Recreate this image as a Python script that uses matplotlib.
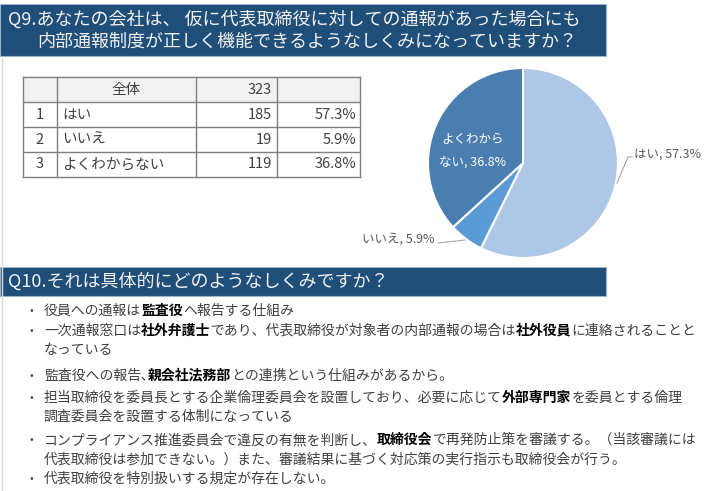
import matplotlib
matplotlib.use("Agg")
import matplotlib.pyplot as plt
from matplotlib.patches import Rectangle

plt.rcParams['font.family'] = ['Noto Sans CJK JP', 'DejaVu Sans']

# ---------------- data ----------------
q9_title = ["Q9.あなたの会社は、 仮に代表取締役に対しての通報があった場合にも",
            "内部通報制度が正しく機能できるようなしくみになっていますか？"]
q10_title = "Q10.それは具体的にどのようなしくみですか？"
total_label = "全体"
total_count = 323
row_numbers = [1, 2, 3]
categories = ["はい", "いいえ", "よくわからない"]
counts = [185, 19, 119]
percents = [57.3, 5.9, 36.8]
pie_colors = ["#AEC7E7", "#5B9BD5", "#4A7EB0"]

bullets = [
    [[("役員への通報は", False), ("監査役", True), ("へ報告する仕組み", False)]],
    [[("一次通報窓口は", False), ("社外弁護士", True), ("であり、代表取締役が対象者の内部通報の場合は", False),
      ("社外役員", True), ("に連絡されることと", False)],
     [("なっている", False)]],
    [[("監査役への報告､", False), ("親会社法務部", True), ("との連携という仕組みがあるから。", False)]],
    [[("担当取締役を委員長とする企業倫理委員会を設置しており、必要に応じて", False), ("外部専門家", True),
      ("を委員とする倫理", False)],
     [("調査委員会を設置する体制になっている", False)]],
    [[("コンプライアンス推進委員会で違反の有無を判断し、", False), ("取締役会", True),
      ("で再発防止策を審議する。（当該審議には", False)],
     [("代表取締役は参加できない。）また、審議結果に基づく対応策の実行指示も取締役会が行う。", False)]],
    [[("代表取締役を特別扱いする規定が存在しない。", False)]],
]

# ---------------- figure ----------------
W, H = 711, 491
fig = plt.figure(figsize=(W / 100, H / 100), dpi=100)

# Pie (drawn first, underneath the overlay axes)
cx, cy, r = 523, 163, 95
pax = fig.add_axes([(cx - r) / W, 1 - (cy + r) / H, 2 * r / W, 2 * r / H])
pax.pie(percents, colors=pie_colors, startangle=90, counterclock=False, radius=1,
        wedgeprops=dict(edgecolor='white', linewidth=1.5))
pax.set_xlim(-1, 1)
pax.set_ylim(-1, 1)
pax.set_aspect('auto')
pax.axis('off')

ax = fig.add_axes([0, 0, 1, 1])
ax.set_xlim(0, W)
ax.set_ylim(H, 0)
ax.axis('off')
ax.patch.set_alpha(0)
ax.set_zorder(5)

BANNER = "#1F4E79"
TXT = "#404040"

# left border line
ax.plot([2, 2], [58, H], color="#D9D9D9", lw=1)

# Q9 banner
ax.add_patch(Rectangle((0, 4), 606, 52, facecolor=BANNER, edgecolor="#9DB3CC", lw=0.8))
ax.text(8, 20, q9_title[0], fontsize=13, color="#F2F2F2", va='center', ha='left')
ax.text(37, 42, q9_title[1], fontsize=13, color="#F2F2F2", va='center', ha='left')

# Table
col_x = [23, 57, 196, 277, 360]
row_y = [77, 102, 127, 152, 177]
ax.add_patch(Rectangle((col_x[0], row_y[0]), col_x[-1] - col_x[0], row_y[1] - row_y[0],
                       facecolor="#F2F2F2", edgecolor='none'))
for y in row_y:
    ax.plot([col_x[0], col_x[-1]], [y, y], color="#7F7F7F", lw=1)
for x in col_x:
    ax.plot([x, x], [row_y[0], row_y[-1]], color="#7F7F7F", lw=1)
fs_t = 10.5
ym = (row_y[0] + row_y[1]) / 2
ax.text((col_x[1] + col_x[2]) / 2, ym, total_label, fontsize=fs_t, color=TXT, ha='center', va='center')
ax.text(col_x[3] - 5, ym, f"{total_count}", fontsize=fs_t, color=TXT, ha='right', va='center')
for i, (n, c, v, p) in enumerate(zip(row_numbers, categories, counts, percents)):
    ym = (row_y[i + 1] + row_y[i + 2]) / 2
    ax.text((col_x[0] + col_x[1]) / 2, ym, str(n), fontsize=fs_t, color=TXT, ha='center', va='center')
    ax.text(col_x[1] + 5, ym, c, fontsize=fs_t, color=TXT, ha='left', va='center')
    ax.text(col_x[3] - 5, ym, f"{v}", fontsize=fs_t, color=TXT, ha='right', va='center')
    ax.text(col_x[4] - 4, ym, f"{p:.1f}%", fontsize=fs_t, color=TXT, ha='right', va='center')

LBL = "#595959"
# はい label
ax.plot([617, 628, 632], [183, 157, 157], color="#A6A6A6", lw=0.8)
ax.text(634, 154, f"{categories[0]}, {percents[0]}%", fontsize=9, color=LBL, ha='left', va='center')
# いいえ label
ax.plot([438, 465], [243, 240], color="#A6A6A6", lw=0.8)
ax.text(435, 239, f"{categories[1]}, {percents[1]}%", fontsize=9, color=LBL, ha='right', va='center')
# よくわからない label (inside)
ax.text(473, 140, categories[2][:5], fontsize=9, color="white", ha='center', va='center')
ax.text(473, 162, f"{categories[2][5:]}, {percents[2]}%", fontsize=9, color="white", ha='center', va='center')

# Q10 banner
ax.add_patch(Rectangle((0, 267), 606, 29, facecolor=BANNER, edgecolor="#9DB3CC", lw=0.8))
ax.text(8, 281.5, q10_title, fontsize=13, color="#F2F2F2", va='center', ha='left')

# Bullets
fig.canvas.draw()
renderer = fig.canvas.get_renderer()
fs_b = 10
line_ys = [[311], [331, 350], [376], [398, 417], [440, 459], [479]]


def text_width(s):
    t = ax.text(0, 0, s, fontsize=fs_b)
    w = t.get_window_extent(renderer).width
    t.remove()
    return w


def rich(x0, y, segs):
    prefix = ""
    for s, b in segs:
        x = x0 + (text_width(prefix) if prefix else 0)
        ax.text(x, y, s, fontsize=fs_b, fontweight='bold' if b else 'normal',
                color="#000000" if b else TXT, ha='left', va='center')
        prefix += s


for lines, ys in zip(bullets, line_ys):
    ax.text(31, ys[0], "•", fontsize=8, color=TXT, ha='center', va='center')
    for segs, y in zip(lines, ys):
        rich(44, y, segs)

fig.savefig("out.png", dpi=100)
